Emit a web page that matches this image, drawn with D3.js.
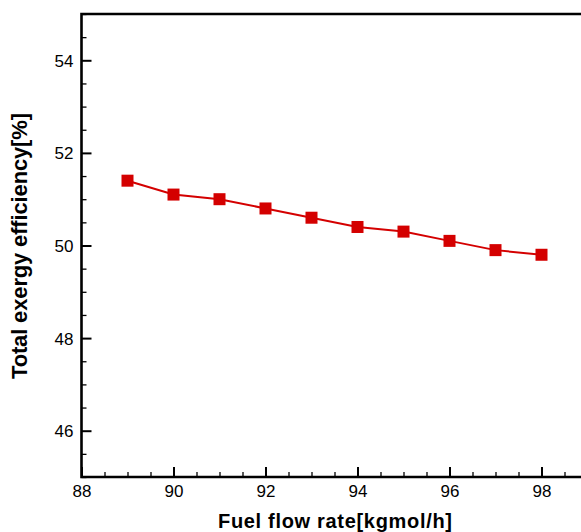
<!DOCTYPE html>
<html>
<head>
<meta charset="utf-8">
<script src="https://cdn.jsdelivr.net/npm/d3@7"></script>
<style>
  html, body { margin: 0; padding: 0; background: #fff; }
  svg { display: block; }
  text { font-family: "Liberation Sans", Arial, Helvetica, sans-serif; fill: #000; }
</style>
</head>
<body>
<svg id="chart" width="581" height="532"></svg>
<script>
// Fuel flow rate (kgmol/h) and total exergy efficiency (%)
const fuelFlow = [89, 90, 91, 92, 93, 94, 95, 96, 97, 98];
const exergyEff = [51.4, 51.1, 51.0, 50.8, 50.6, 50.4, 50.3, 50.1, 49.9, 49.8];
const xTicks = [88, 90, 92, 94, 96, 98];
const yTicks = [46, 48, 50, 52, 54];
const xMinor = d3.range(88, 99.01, 0.5);
const yMinor = d3.range(45, 55.01, 0.5);

const svg = d3.select("#chart");
const plotLeft = 81.5, plotTop = 14, plotBottom = 477;

const x = d3.scaleLinear().domain([88, 99]).range([plotLeft, plotLeft + 11 * 46]);
const y = d3.scaleLinear().domain([45, 55]).range([plotBottom, plotTop]);

const axisColor = "#000";

// minor ticks (inward)
const minorX = d3.axisTop(x).tickValues(xMinor.filter(v => !xTicks.includes(v))).tickSize(5).tickFormat("");
const minorY = d3.axisRight(y).tickValues(yMinor.filter(v => !yTicks.includes(v))).tickSize(5).tickFormat("");

const gxm = svg.append("g").attr("transform", `translate(0,${plotBottom})`).call(minorX);
const gym = svg.append("g").attr("transform", `translate(${plotLeft},0)`).call(minorY);
[gxm, gym].forEach(g => {
  g.select(".domain").remove();
  g.selectAll("line").attr("stroke", axisColor).attr("stroke-width", 1.3);
});

// major ticks (inward) with labels outside
const majorX = d3.axisTop(x).tickValues(xTicks).tickSize(10).tickFormat(d3.format("d"));
const gx = svg.append("g").attr("transform", `translate(0,${plotBottom})`).call(majorX);
gx.select(".domain").remove();
gx.selectAll("line").attr("stroke", axisColor).attr("stroke-width", 2);
gx.selectAll("text").attr("y", 20).attr("dy", "0").style("font-size", "17px").attr("fill", "#000");

const majorY = d3.axisRight(y).tickValues(yTicks).tickSize(10).tickFormat(d3.format("d"));
const gy = svg.append("g").attr("transform", `translate(${plotLeft},0)`).call(majorY);
gy.select(".domain").remove();
gy.selectAll("line").attr("stroke", axisColor).attr("stroke-width", 2);
gy.selectAll("text").attr("x", -8).attr("dy", "0.35em").attr("text-anchor", "end")
  .style("font-size", "17px").attr("fill", "#000");

// frame: left, bottom and top edges
svg.append("path")
  .attr("d", `M${x(99)},${plotTop}H${plotLeft}V${plotBottom}H${x(99)}`)
  .attr("fill", "none").attr("stroke", axisColor).attr("stroke-width", 2.6);

// series line
const line = d3.line().x((d, i) => x(fuelFlow[i])).y(d => y(d));
svg.append("path")
  .datum(exergyEff)
  .attr("d", line)
  .attr("fill", "none")
  .attr("stroke", "#d40000")
  .attr("stroke-width", 2);

// square markers
const s = 12;
svg.append("g").selectAll("rect")
  .data(exergyEff)
  .join("rect")
  .attr("x", (d, i) => x(fuelFlow[i]) - s / 2)
  .attr("y", d => y(d) - s / 2)
  .attr("width", s)
  .attr("height", s)
  .attr("fill", "#d40000");

// axis titles
svg.append("text")
  .attr("x", 335).attr("y", 527.5)
  .attr("text-anchor", "middle")
  .attr("textLength", 234).attr("lengthAdjust", "spacing")
  .style("font-size", "20px").style("font-weight", "bold")
  .text("Fuel flow rate[kgmol/h]");

svg.append("text")
  .attr("transform", `translate(27,246) rotate(-90)`)
  .attr("text-anchor", "middle")
  .attr("textLength", 266).attr("lengthAdjust", "spacing")
  .style("font-size", "22px").style("font-weight", "bold")
  .text("Total exergy efficiency[%]");
</script>
</body>
</html>
